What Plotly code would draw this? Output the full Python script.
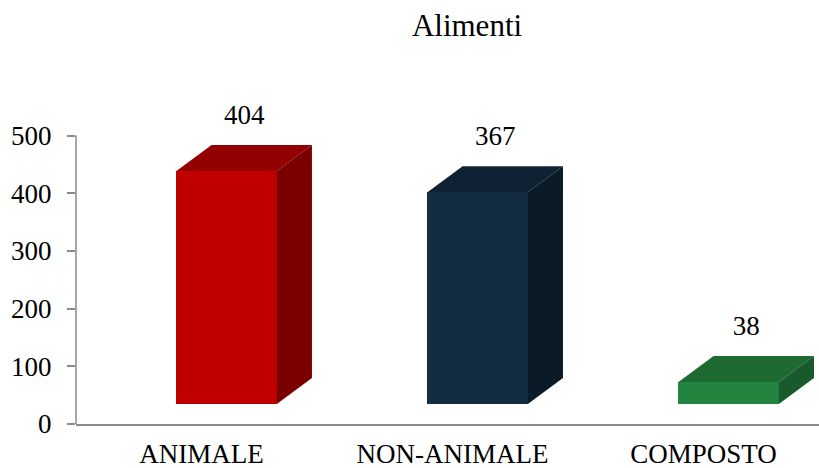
import plotly.graph_objects as go

# Chart data
categories = ["ANIMALE", "NON-ANIMALE", "COMPOSTO"]
values = [404, 367, 38]
y_ticks = [0, 100, 200, 300, 400, 500]

# Shading for each bar: front, top, side faces
front_colors = ["#C00000", "#132C41", "#23843F"]
top_colors = ["#930000", "#0E2233", "#1D6A33"]
side_colors = ["#7A0000", "#0A1B27", "#195A2C"]

# Pseudo-3D geometry (data units)
FRONT_LEFT = -0.1      # front face left edge relative to category centre
FRONT_WIDTH = 0.4
DEPTH_X = 0.14          # receding depth along x
DEPTH_Y = 45.0          # receding depth along y
FLOOR = 34.7            # front face sits above the axis by this amount
LABEL_GAP = 48.0
Y_MAX = 560             # headroom above the axis for value labels
AXIS_TOP = 500

FONT = "Times New Roman, Liberation Serif, DejaVu Serif, serif"
AXIS_COLOR = "#8A8A8A"

fig = go.Figure()

xs = list(range(len(categories)))

# Front faces as bars
fig.add_trace(go.Bar(
    x=xs, y=values, base=[FLOOR] * len(values),
    width=FRONT_WIDTH, offset=FRONT_LEFT,
    marker=dict(color=front_colors, line=dict(width=0)),
    hoverinfo="skip", showlegend=False,
))

label_x, label_y = [], []
# Top and side faces as filled polygons
for i, v in enumerate(values):
    x0 = xs[i] + FRONT_LEFT
    x1 = x0 + FRONT_WIDTH
    yb = FLOOR
    yt = FLOOR + v
    # top face
    fig.add_trace(go.Scatter(
        x=[x0, x1, x1 + DEPTH_X, x0 + DEPTH_X, x0],
        y=[yt, yt, yt + DEPTH_Y, yt + DEPTH_Y, yt],
        fill="toself", fillcolor=top_colors[i], mode="lines",
        line=dict(width=0, color=top_colors[i]),
        hoverinfo="skip", showlegend=False,
    ))
    # side face
    fig.add_trace(go.Scatter(
        x=[x1, x1 + DEPTH_X, x1 + DEPTH_X, x1, x1],
        y=[yb, yb + DEPTH_Y, yt + DEPTH_Y, yt, yb],
        fill="toself", fillcolor=side_colors[i], mode="lines",
        line=dict(width=0, color=side_colors[i]),
        hoverinfo="skip", showlegend=False,
    ))
    label_x.append(x0 + FRONT_WIDTH / 2 + DEPTH_X / 2)
    label_y.append(yt + DEPTH_Y + LABEL_GAP)

# Value labels above each bar
fig.add_trace(go.Scatter(
    x=label_x, y=label_y, mode="text", text=[str(v) for v in values],
    textposition="middle center", cliponaxis=False,
    textfont=dict(family=FONT, size=27, color="#000000"),
    hoverinfo="skip", showlegend=False,
))

# Vertical axis line stops at the top tick
fig.add_shape(type="line", xref="paper", yref="y", x0=0, x1=0,
              y0=0, y1=AXIS_TOP, line=dict(color=AXIS_COLOR, width=1.5))

plot_h = 468 - 44 - 136
margin_top = 468 - 44 - plot_h * Y_MAX / AXIS_TOP

fig.update_layout(
    width=819, height=468,
    margin=dict(l=76, r=0, t=margin_top, b=44, autoexpand=False),
    paper_bgcolor="white", plot_bgcolor="white",
    title=dict(text="Alimenti", x=467 / 819, xanchor="center",
               y=1 - 25 / 468, yanchor="middle",
               font=dict(family=FONT, size=31, color="#000000")),
    bargap=0,
)

fig.update_xaxes(
    range=[-0.5, 2.46], tickmode="array", tickvals=xs, ticktext=categories,
    showgrid=False, zeroline=False, showline=True, linecolor=AXIS_COLOR,
    linewidth=1.5, ticks="", ticklabelstandoff=5, automargin=False,
    tickfont=dict(family=FONT, size=27, color="#000000"),
)
fig.update_yaxes(
    range=[0, Y_MAX], tickmode="array", tickvals=y_ticks,
    showgrid=False, zeroline=False, showline=False,
    ticks="outside", ticklen=8, tickcolor=AXIS_COLOR,
    tickwidth=1.5, ticklabelstandoff=10, automargin=False,
    tickfont=dict(family=FONT, size=27, color="#000000"),
)

fig.write_html("out.html")
